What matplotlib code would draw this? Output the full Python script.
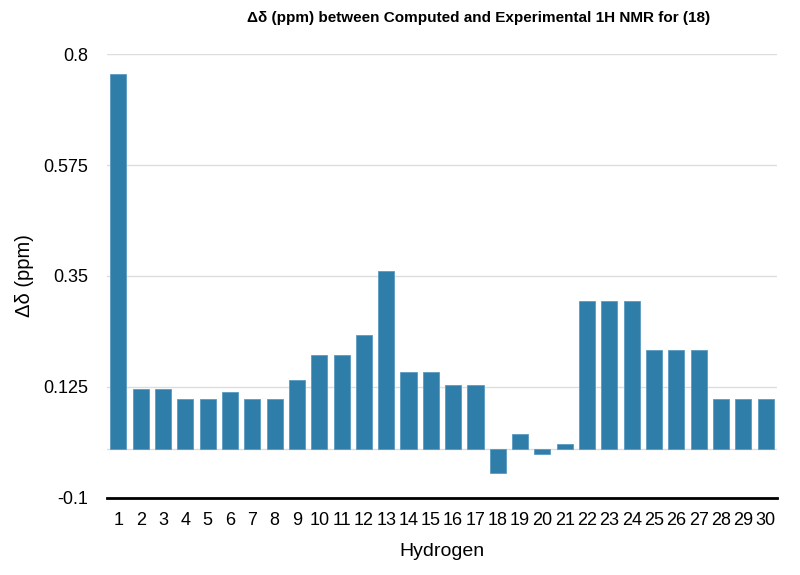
import matplotlib.pyplot as plt
import numpy as np

plt.rcParams['font.family'] = ['Liberation Sans', 'DejaVu Sans']

# hydrogen index and computed-minus-experimental shift difference
hydrogens = list(range(1, 31))
delta = [0.76, 0.12, 0.12, 0.10, 0.10, 0.115, 0.10, 0.10, 0.14, 0.19,
         0.19, 0.23, 0.36, 0.155, 0.155, 0.13, 0.13, -0.05, 0.03, -0.01,
         0.01, 0.30, 0.30, 0.30, 0.20, 0.20, 0.20, 0.10, 0.10, 0.10]
yticks = [-0.1, 0.125, 0.35, 0.575, 0.8]
ytick_labels = ['-0.1', '0.125', '0.35', '0.575', '0.8']

fig = plt.figure(figsize=(8, 5.75), dpi=100)
ax = fig.add_axes([0.134, 0.134, 0.837, 0.772])

# light grid lines, including the zero line
for yv in yticks[1:] + [0]:
    ax.axhline(yv, color='#dddddd', linewidth=1, zorder=0)

ax.bar(hydrogens, delta, width=0.72, color='#2f7eaa', edgecolor='#5b9bc2',
       linewidth=0.6, zorder=2)

ax.set_xlim(0.5, 30.5)
ax.set_ylim(-0.1, 0.8)
ax.set_xticks(hydrogens)
ax.set_xticklabels([str(h) for h in hydrogens])
ax.set_yticks(yticks)
ax.set_yticklabels(ytick_labels)
ax.tick_params(axis='both', length=0, labelsize=13)
ax.tick_params(axis='x', pad=10)
ax.tick_params(axis='y', pad=14)

for s in ['top', 'right', 'left']:
    ax.spines[s].set_visible(False)
ax.spines['bottom'].set_linewidth(2)
ax.spines['bottom'].set_color('black')

ax.set_xlabel('Hydrogen', fontsize=14, labelpad=10)
ax.set_ylabel('Δδ (ppm)', fontsize=14.5, labelpad=6)
fig.text(0.598, 0.968, 'Δδ (ppm) between Computed and Experimental 1H NMR for (18)',
         ha='center', va='center', fontsize=11, fontweight='bold')

plt.savefig('out.png', dpi=100)
